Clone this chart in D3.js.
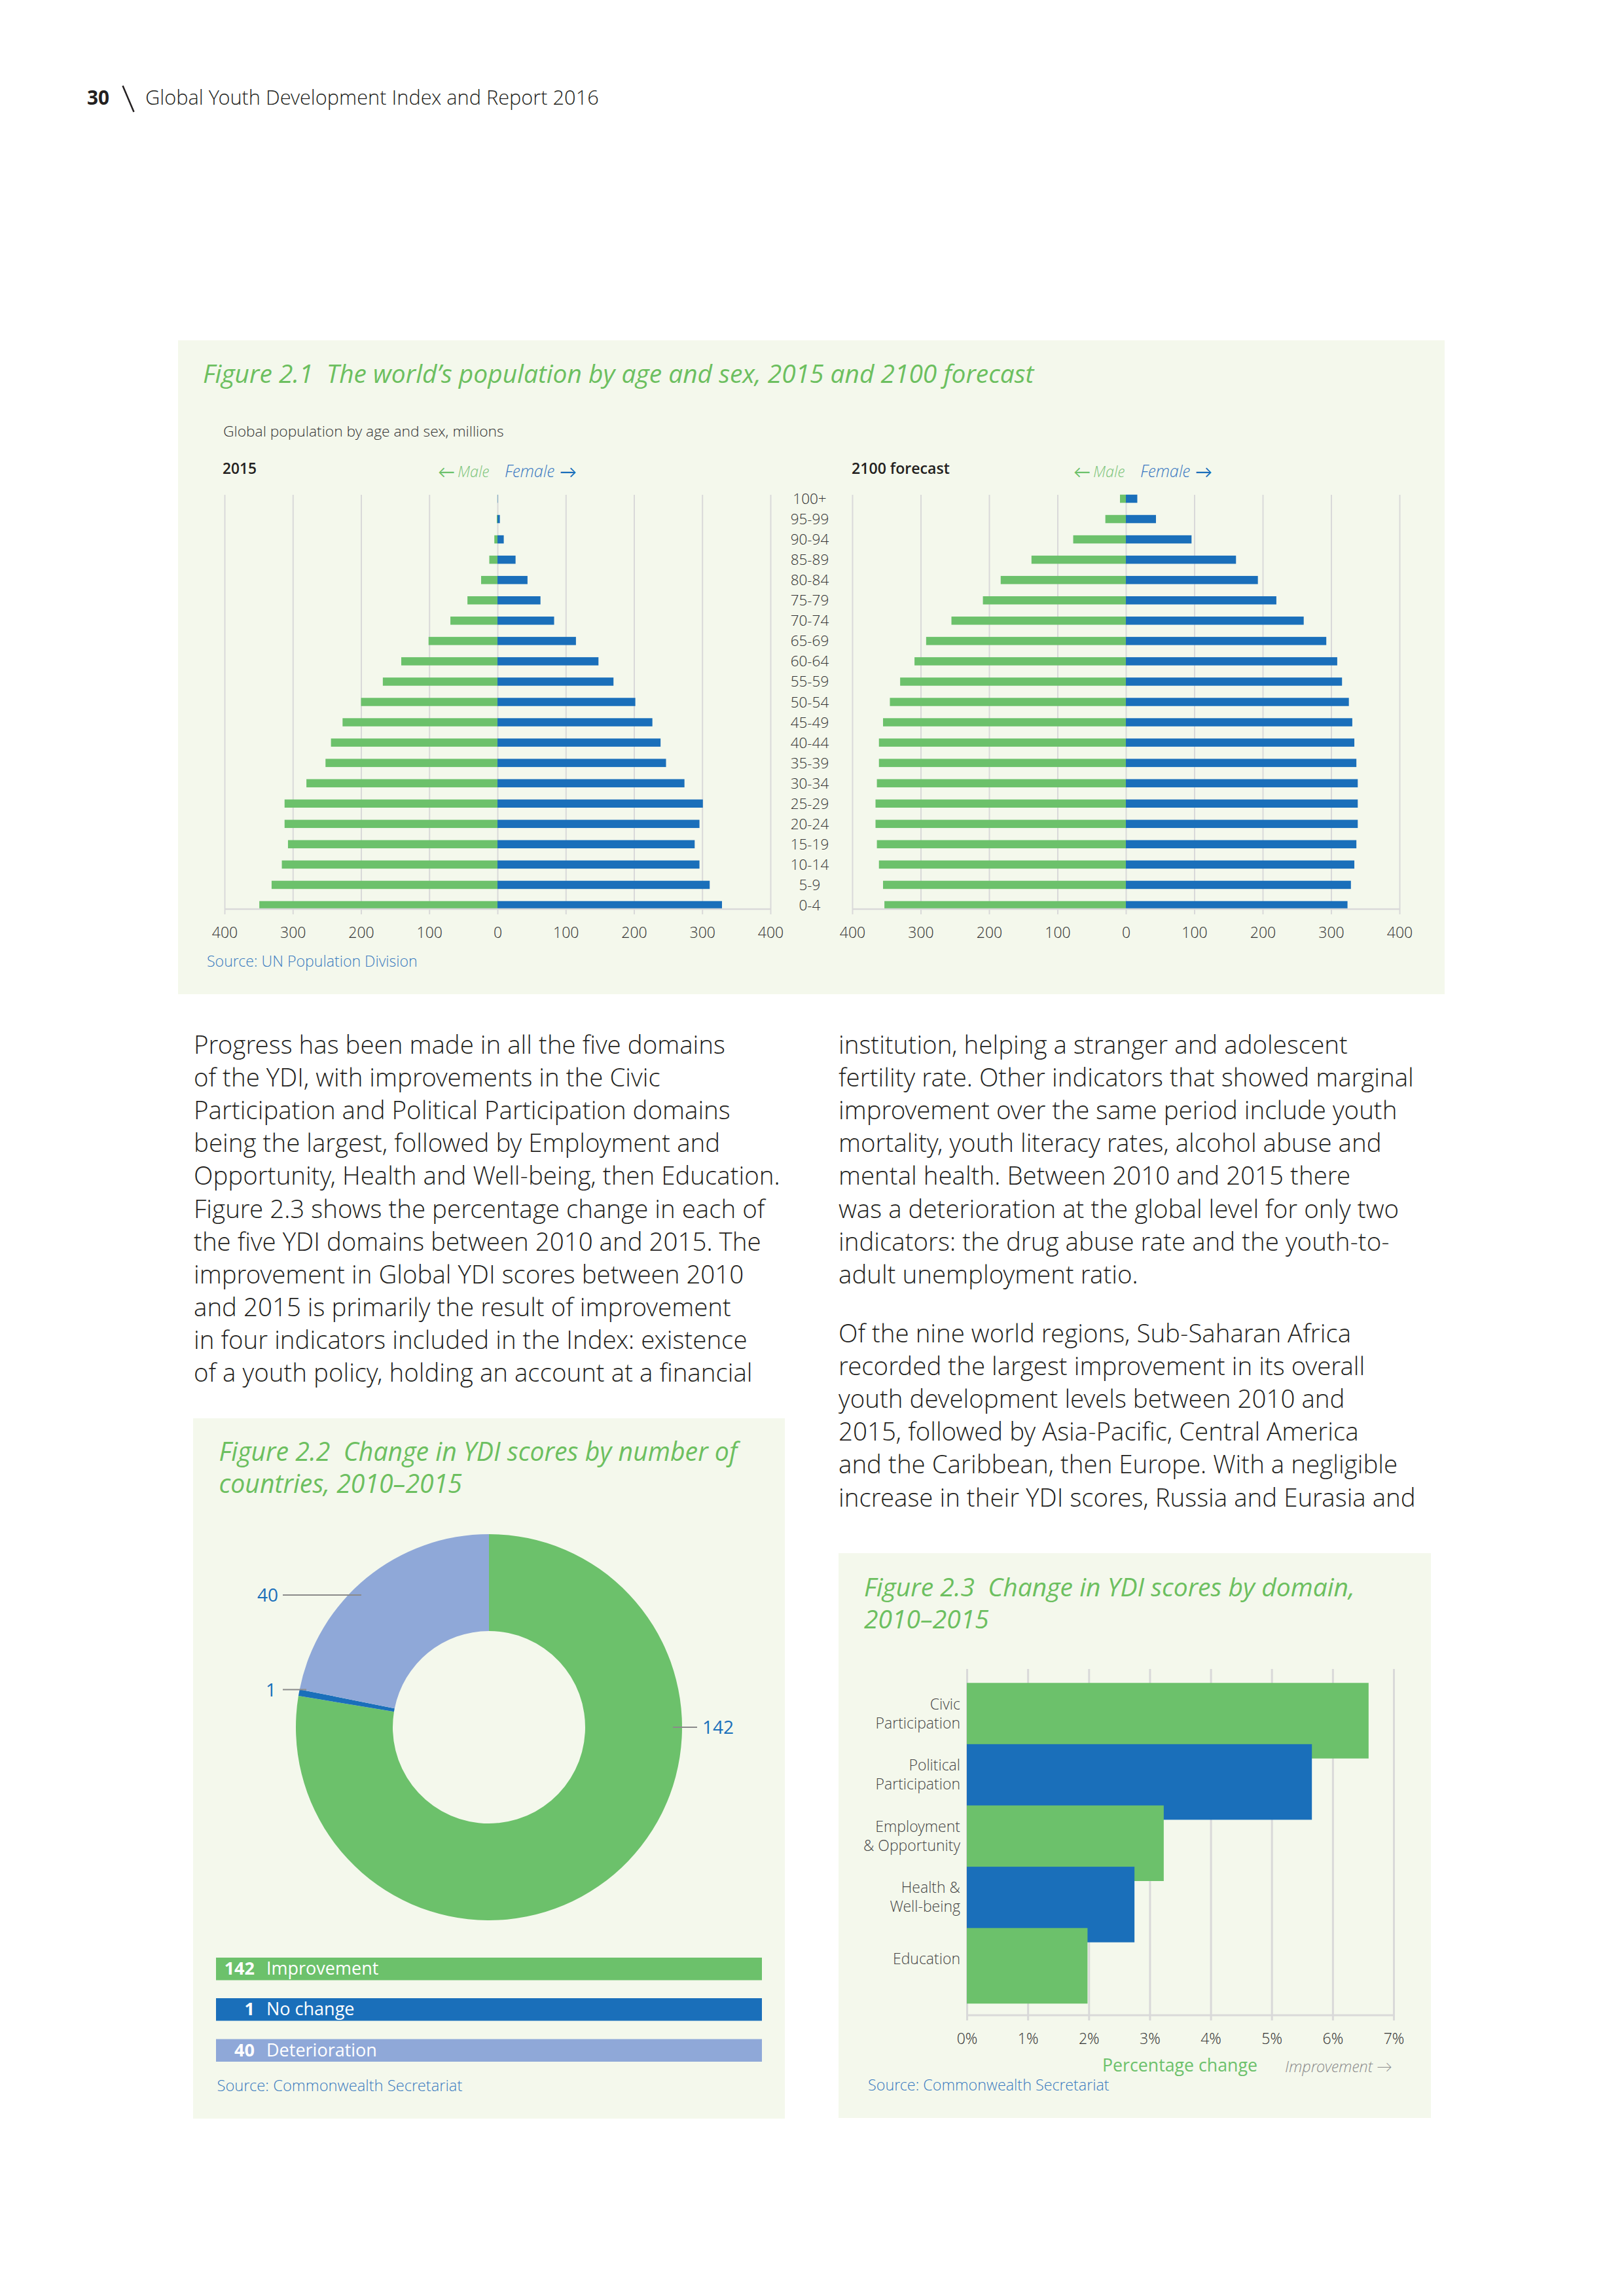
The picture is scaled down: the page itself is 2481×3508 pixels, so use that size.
<!DOCTYPE html>
<html><head><meta charset="utf-8">
<script src="https://cdn.jsdelivr.net/npm/d3@7"></script>
<style>body{margin:0;background:#fff}svg{display:block}text{white-space:pre}</style>
</head><body><svg id="page" width="2481" height="3508"></svg>
<script>
// ---------------- DATA ----------------
const ageGroups = ["100+","95-99","90-94","85-89","80-84","75-79","70-74","65-69","60-64","55-59","50-54","45-49","40-44","35-39","30-34","25-29","20-24","15-19","10-14","5-9","0-4"];
const male2015   = [0.1, 1, 4.6, 12, 24, 44, 69, 101, 141, 168, 200, 227, 244, 252, 280, 312, 312, 307, 316, 331, 349];
const female2015 = [0.4, 3.5, 9.2, 26.5, 44, 63, 83, 115, 148, 170, 202, 227, 239, 247, 274, 301, 296, 289, 296, 311, 329];
const male2100   = [8.6, 30, 77, 138, 183, 209, 255, 292, 309, 330, 345, 355, 361, 361, 364, 366, 366, 364, 361, 355, 353];
const female2100 = [16.7, 44, 96, 161, 193, 220, 260, 293, 309, 316, 326, 331, 334, 337, 339, 339, 339, 337, 334, 329, 324];
const pyramidTicks = [-400,-300,-200,-100,0,100,200,300,400];

const donutLabels = ["Improvement","No change","Deterioration"];
const donutValues = [142, 1, 40];

const domainNames = ["Civic Participation","Political Participation","Employment & Opportunity","Health & Well-being","Education"];
const domainLines = [["Civic","Participation"],["Political","Participation"],["Employment","& Opportunity"],["Health &","Well-being"],["Education"]];
const domainValues = [6.59, 5.66, 3.23, 2.75, 1.98];
const pctTicks = [0,1,2,3,4,5,6,7];

const leftText = [
"Progress has been made in all the five domains",
"of the YDI, with improvements in the Civic",
"Participation and Political Participation domains",
"being the largest, followed by Employment and",
"Opportunity, Health and Well-being, then Education.",
"Figure 2.3 shows the percentage change in each of",
"the five YDI domains between 2010 and 2015. The",
"improvement in Global YDI scores between 2010",
"and 2015 is primarily the result of improvement",
"in four indicators included in the Index: existence",
"of a youth policy, holding an account at a financial"];
const rightText1 = [
"institution, helping a stranger and adolescent",
"fertility rate. Other indicators that showed marginal",
"improvement over the same period include youth",
"mortality, youth literacy rates, alcohol abuse and",
"mental health. Between 2010 and 2015 there",
"was a deterioration at the global level for only two",
"indicators: the drug abuse rate and the youth-to-",
"adult unemployment ratio."];
const rightText2 = [
"Of the nine world regions, Sub-Saharan Africa",
"recorded the largest improvement in its overall",
"youth development levels between 2010 and",
"2015, followed by Asia-Pacific, Central America",
"and the Caribbean, then Europe. With a negligible",
"increase in their YDI scores, Russia and Eurasia and"];

// ---------------- STYLE ----------------
const C = {green:'#6cc16b', blue:'#1a6fba', lav:'#8fa8d8', bg:'#f4f8ec', grid:'#d9d9d9',
           text:'#231f20', src:'#3a7bbf', title:'#6cbf5f', gray:'#8c8c8c'};
const F = "'Open Sans Light','Open Sans','Lato','DejaVu Sans',sans-serif";
const FT = "'Open Sans','Lato','DejaVu Sans',sans-serif";

const svg = d3.select('#page');

function T(parent, x, y, s, o={}) {
  const t = parent.append('text').attr('x', x).attr('y', y).text(s)
    .attr('font-family', (o.weight && o.weight > 300) ? FT : F).attr('font-size', o.size || 24)
    .attr('font-weight', o.weight || 300).attr('fill', o.fill || C.text);
  if (o.italic) t.attr('font-style', 'italic');
  if (o.anchor) t.attr('text-anchor', o.anchor);
  return t;
}
function fit(sel, target) {
  const w = sel.node().getComputedTextLength();
  const fs = +sel.attr('font-size');
  const n = w > 0 ? fs * target / w : fs;
  sel.attr('font-size', n);
  return n;
}

function draw() {
  // Header
  fit(T(svg, 133, 160, "30", {size: 30, weight: 700}), 34);
  svg.append('line').attr('x1', 187.5).attr('y1', 131).attr('x2', 204.5).attr('y2', 171)
    .attr('stroke', C.text).attr('stroke-width', 2.5);
  fit(T(svg, 222, 160, "Global Youth Development Index and Report 2016", {size: 30}), 693);

  // ---------- Figure 2.1 ----------
  svg.append('rect').attr('x', 272).attr('y', 520).attr('width', 1935).attr('height', 999).attr('fill', C.bg);
  fit(T(svg, 310, 585, "Figure 2.1  The world\u2019s population by age and sex, 2015 and 2100 forecast",
        {size: 36, weight: 400, italic: true, fill: C.title}), 1270);
  fit(T(svg, 341, 667, "Global population by age and sex, millions", {size: 22, fill: '#333'}), 429);
  fit(T(svg, 340, 724, "2015", {size: 23, weight: 600}), 52);
  fit(T(svg, 1301, 724, "2100 forecast", {size: 23, weight: 600}), 150);

  [0, 971].forEach(dx => {
    T(svg, 669 + dx, 730, "\u2190", {size: 26, weight: 400, fill: C.green});
    fit(T(svg, 699 + dx, 729, "Male", {size: 22, italic: true, fill: '#7cc47a'}), 48);
    fit(T(svg, 771 + dx, 729, "Female", {size: 22, italic: true, fill: '#3a78c2'}), 76);
    T(svg, 855 + dx, 730, "\u2192", {size: 26, weight: 400, fill: C.blue});
  });

  const yAge = d3.scalePoint().domain(ageGroups).range([762, 1383]);
  const barH = 12.5;
  function pyramid(zeroX, half, male, female) {
    const x = d3.scaleLinear().domain([-400, 400]).range([zeroX - half, zeroX + half]);
    const g = svg.append('g');
    const ax = g.append('g').attr('transform', 'translate(0,1397)')
      .call(d3.axisBottom(x).tickValues(pyramidTicks).tickFormat(d => Math.abs(d))
        .tickSizeInner(-(1397 - 756)).tickSizeOuter(0).tickPadding(20));
    ax.select('.domain').remove();
    ax.selectAll('line').attr('stroke', C.grid).attr('stroke-width', 2);
    ax.selectAll('text').attr('font-family', F).attr('font-size', 23).attr('font-weight', 300).attr('fill', '#333');
    g.selectAll('rect.m').data(ageGroups).join('rect').attr('class', 'm')
      .attr('x', (d, i) => x(-male[i])).attr('width', (d, i) => x(0) - x(-male[i]))
      .attr('y', d => yAge(d) - barH / 2).attr('height', barH).attr('fill', C.green);
    g.selectAll('rect.f').data(ageGroups).join('rect').attr('class', 'f')
      .attr('x', x(0)).attr('width', (d, i) => x(female[i]) - x(0))
      .attr('y', d => yAge(d) - barH / 2).attr('height', barH).attr('fill', C.blue);
    g.append('line').attr('x1', x(-400)).attr('x2', x(400)).attr('y1', 1389).attr('y2', 1389)
      .attr('stroke', C.grid).attr('stroke-width', 2.5);
  }
  pyramid(760, 417, male2015, female2015);
  pyramid(1720, 418, male2100, female2100);

  svg.append('g').selectAll('text').data(ageGroups).join('text')
    .attr('x', 1237).attr('y', d => yAge(d) + 8).attr('text-anchor', 'middle')
    .attr('font-family', F).attr('font-size', 22.5).attr('font-weight', 300).attr('fill', '#333')
    .text(d => d);

  fit(T(svg, 316, 1477, "Source: UN Population Division", {size: 22, fill: C.src}), 322);

  // ---------- Body text ----------
  const ref1 = T(svg, 0, -100, leftText[4], {size: 36});
  const s1 = fit(ref1, 901); ref1.remove();
  const ref2 = T(svg, 0, -100, rightText1[1], {size: 36});
  const s2 = fit(ref2, 874); ref2.remove();
  const bs = (s1 + s2) / 2;
  leftText.forEach((l, i) => T(svg, 296, 1610 + i * 50.1, l, {size: bs}));
  rightText1.forEach((l, i) => T(svg, 1281, 1610 + i * 50.1, l, {size: bs}));
  rightText2.forEach((l, i) => T(svg, 1281, 2051 + i * 50.1, l, {size: bs}));

  // ---------- Figure 2.2 ----------
  svg.append('rect').attr('x', 295).attr('y', 2167).attr('width', 904).attr('height', 1070).attr('fill', C.bg);
  const t22 = T(svg, 334.5, 2232, "Figure 2.2  Change in YDI scores by number of", {size: 36, weight: 400, italic: true, fill: C.title});
  const ts22 = fit(t22, 792);
  T(svg, 334.5, 2281, "countries, 2010\u20132015", {size: ts22, weight: 400, italic: true, fill: C.title});

  const donutColors = [C.green, C.blue, C.lav];
  const pie = d3.pie().sort(null).value(d => d)(donutValues);
  const arc = d3.arc().innerRadius(147).outerRadius(295);
  svg.append('g').attr('transform', 'translate(747,2639)')
    .selectAll('path').data(pie).join('path').attr('d', arc).attr('fill', (d, i) => donutColors[i]);

  const lead = [
    {v: donutValues[2], x1: 432, x2: 552, y: 2437, tx: 425, anchor: 'end'},
    {v: donutValues[1], x1: 432, x2: 468, y: 2581.5, tx: 422, anchor: 'end'},
    {v: donutValues[0], x1: 1028, x2: 1065, y: 2639, tx: 1073, anchor: 'start'}];
  lead.forEach(l => {
    svg.append('line').attr('x1', l.x1).attr('x2', l.x2).attr('y1', l.y).attr('y2', l.y)
      .attr('stroke', '#8a8a8a').attr('stroke-width', 2);
    T(svg, l.tx, l.y + 10, String(l.v), {size: 28, weight: 400, fill: C.blue, anchor: l.anchor});
  });

  const legY = [2991, 3053, 3115.5];
  donutLabels.forEach((lab, i) => {
    svg.append('rect').attr('x', 330).attr('y', legY[i]).attr('width', 834).attr('height', 34.5).attr('fill', donutColors[i]);
    T(svg, 389, legY[i] + 26, String(donutValues[i]), {size: 27, weight: 700, fill: '#fff', anchor: 'end'});
    T(svg, 407, legY[i] + 26, lab, {size: 27, weight: 400, fill: '#fff'});
  });
  fit(T(svg, 331.5, 3195, "Source: Commonwealth Secretariat", {size: 24, fill: C.src}), 375);

  // ---------- Figure 2.3 ----------
  svg.append('rect').attr('x', 1281).attr('y', 2373).attr('width', 905).attr('height', 863).attr('fill', C.bg);
  const t23 = T(svg, 1320, 2439, "Figure 2.3  Change in YDI scores by domain,", {size: 36, weight: 400, italic: true, fill: C.title});
  const ts23 = fit(t23, 750);
  T(svg, 1320, 2488, "2010\u20132015", {size: ts23, weight: 400, italic: true, fill: C.title});

  const xp = d3.scaleLinear().domain([0, 7]).range([1477, 2129]);
  const yd = d3.scalePoint().domain(domainNames).range([2629, 3003.5]);
  const bh = 115.5;
  const ax3 = svg.append('g').attr('transform', 'translate(0,3087)')
    .call(d3.axisBottom(xp).tickValues(pctTicks).tickFormat(d => d + '%')
      .tickSizeInner(-(3087 - 2550)).tickSizeOuter(0).tickPadding(20));
  ax3.select('.domain').remove();
  ax3.selectAll('line').attr('stroke', C.grid).attr('stroke-width', 3);
  ax3.selectAll('text').attr('font-family', F).attr('font-size', 23).attr('font-weight', 300).attr('fill', '#333');
  svg.append('g').selectAll('rect').data(domainNames).join('rect')
    .attr('x', xp(0)).attr('width', (d, i) => xp(domainValues[i]) - xp(0))
    .attr('y', d => yd(d) - bh / 2).attr('height', bh)
    .attr('fill', (d, i) => i % 2 === 0 ? C.green : C.blue);
  svg.append('line').attr('x1', xp(0)).attr('x2', xp(7)).attr('y1', 3079).attr('y2', 3079)
    .attr('stroke', C.grid).attr('stroke-width', 3);

  domainNames.forEach((d, i) => {
    const lines = domainLines[i];
    const c = yd(d) - 11;
    lines.forEach((l, j) => {
      const ly = c + (j - (lines.length - 1) / 2) * 29 + 8;
      T(svg, 1467, ly, l, {size: 23, fill: '#444', anchor: 'end'});
    });
  });

  fit(T(svg, 1684, 3165, "Percentage change", {size: 28, weight: 400, fill: C.green}), 237);
  fit(T(svg, 1963, 3166, "Improvement \u2192", {size: 24, italic: true, fill: C.gray}), 164);
  fit(T(svg, 1326, 3194, "Source: Commonwealth Secretariat", {size: 24, fill: C.src}), 369);
}

if (document.fonts && document.fonts.ready) document.fonts.ready.then(draw); else draw();
</script>
</body></html>
